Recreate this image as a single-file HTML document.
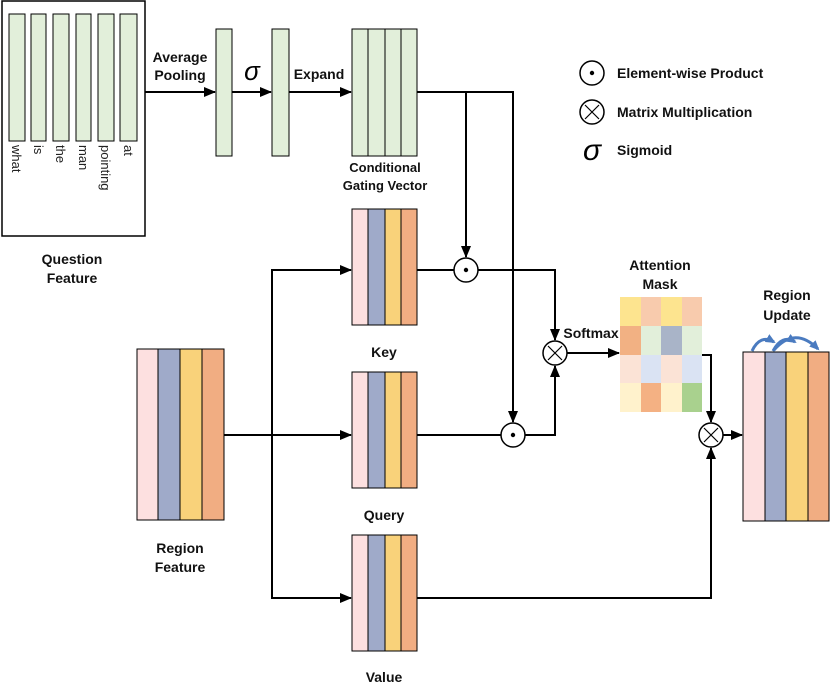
<!DOCTYPE html>
<html><head><meta charset="utf-8"><style>body{margin:0;background:#fff}svg{display:block}text{font-family:"Liberation Sans",Arial,sans-serif}</style></head><body>
<svg width="830" height="690" viewBox="0 0 830 690" xmlns="http://www.w3.org/2000/svg">
<defs><marker id="a" markerWidth="12" markerHeight="10" refX="11" refY="5" orient="auto" markerUnits="userSpaceOnUse"><path d="M0,0 L12,5 L0,10 Z" fill="#000"/></marker>
<marker id="b" markerWidth="10" markerHeight="9" refX="8" refY="4.5" orient="auto" markerUnits="userSpaceOnUse"><path d="M0,0 L10,4.5 L0,9 Z" fill="#4a7bc0"/></marker></defs>
<g stroke="#000" stroke-width="1" fill="#e2efda">
<rect x="2" y="1" width="143" height="235" fill="none" stroke-width="1.5"/>
<rect x="9" y="14" width="16" height="127"/><rect x="31" y="14" width="15" height="127"/><rect x="53" y="14" width="16" height="127"/><rect x="76" y="14" width="15" height="127"/><rect x="98" y="14" width="16" height="127"/><rect x="120" y="14" width="17" height="127"/>
<rect x="216" y="29" width="16" height="127"/><rect x="272" y="29" width="17" height="127"/>
<rect x="352" y="29" width="16" height="127"/><rect x="368" y="29" width="17" height="127"/><rect x="385" y="29" width="16" height="127"/><rect x="401" y="29" width="16" height="127"/>
</g>
<g font-size="13" fill="#222">
<text transform="translate(12,145) rotate(90)">what</text><text transform="translate(34,145) rotate(90)">is</text><text transform="translate(56,145) rotate(90)">the</text><text transform="translate(79,145) rotate(90)">man</text><text transform="translate(101,145) rotate(90)">pointing</text><text transform="translate(124,145) rotate(90)">at</text>
</g>
<g font-size="14" font-weight="bold" text-anchor="middle" fill="#111">
<text x="72" y="264">Question</text><text x="72" y="283">Feature</text>
<text x="180" y="62">Average</text><text x="180" y="80">Pooling</text>
<text x="319" y="79">Expand</text>
<text x="385" y="172" font-size="13">Conditional</text><text x="385" y="190" font-size="13">Gating Vector</text>
<text x="384" y="357">Key</text><text x="384" y="520">Query</text><text x="384" y="682">Value</text>
<text x="180" y="553">Region</text><text x="180" y="572">Feature</text>
<text x="660" y="270">Attention</text><text x="660" y="289">Mask</text>
<text x="787" y="300">Region</text><text x="787" y="320">Update</text>
<text x="591" y="338">Softmax</text>
</g>
<text x="252" y="80" font-size="26" font-style="italic" font-family="Liberation Serif,serif" text-anchor="middle">σ</text>
<g stroke="#000" stroke-width="1">
<g id="blk"><rect x="352" y="209" width="16" height="116" fill="#fde0e0"/><rect x="368" y="209" width="17" height="116" fill="#9faac9"/><rect x="385" y="209" width="16" height="116" fill="#f9d27a"/><rect x="401" y="209" width="16" height="116" fill="#f1ad82"/></g>
<use href="#blk" y="163"/><use href="#blk" y="326"/>
<rect x="137" y="349" width="21" height="171" fill="#fde0e0"/><rect x="158" y="349" width="22" height="171" fill="#9faac9"/><rect x="180" y="349" width="22" height="171" fill="#f9d27a"/><rect x="202" y="349" width="22" height="171" fill="#f1ad82"/>
<rect x="743" y="352" width="22" height="169" fill="#fde0e0"/><rect x="765" y="352" width="21" height="169" fill="#9faac9"/><rect x="786" y="352" width="22" height="169" fill="#f9d27a"/><rect x="808" y="352" width="21" height="169" fill="#f1ad82"/>
</g>
<g>
<rect x="620" y="297" width="21" height="29" fill="#fde48f"/><rect x="641" y="297" width="20" height="29" fill="#f8cbad"/><rect x="661" y="297" width="21" height="29" fill="#fde48f"/><rect x="682" y="297" width="20" height="29" fill="#f8cbad"/>
<rect x="620" y="326" width="21" height="29" fill="#f2b183"/><rect x="641" y="326" width="20" height="29" fill="#e2efda"/><rect x="661" y="326" width="21" height="29" fill="#a9b4c8"/><rect x="682" y="326" width="20" height="29" fill="#e2efda"/>
<rect x="620" y="355" width="21" height="28" fill="#fbe3d6"/><rect x="641" y="355" width="20" height="28" fill="#dae3f3"/><rect x="661" y="355" width="21" height="28" fill="#fbe3d6"/><rect x="682" y="355" width="20" height="28" fill="#dae3f3"/>
<rect x="620" y="383" width="21" height="29" fill="#fff2cc"/><rect x="641" y="383" width="20" height="29" fill="#f4b183"/><rect x="661" y="383" width="21" height="29" fill="#fff2cc"/><rect x="682" y="383" width="20" height="29" fill="#a9d18e"/>
</g>
<g stroke="#000" stroke-width="2" fill="none">
<line x1="145" y1="92" x2="215" y2="92" marker-end="url(#a)"/>
<line x1="232" y1="92" x2="271" y2="92" marker-end="url(#a)"/>
<line x1="289" y1="92" x2="351" y2="92" marker-end="url(#a)"/>
<polyline points="417,92 513,92 513,422" marker-end="url(#a)"/>
<line x1="466" y1="92" x2="466" y2="257" marker-end="url(#a)"/>
<polyline points="224,435 351,435" marker-end="url(#a)"/>
<polyline points="351,270 272,270 272,598 351,598"/>
<line x1="272" y1="270" x2="351" y2="270" marker-end="url(#a)"/>
<line x1="272" y1="598" x2="351" y2="598" marker-end="url(#a)"/>
<line x1="417" y1="270" x2="454" y2="270"/>
<polyline points="478,270 555,270 555,340" marker-end="url(#a)"/>
<line x1="417" y1="435" x2="501" y2="435"/>
<polyline points="525,435 555,435 555,366" marker-end="url(#a)"/>
<line x1="567" y1="353" x2="619" y2="353" marker-end="url(#a)"/>
<polyline points="702,355 711,355 711,422" marker-end="url(#a)"/>
<polyline points="417,598 711,598 711,448" marker-end="url(#a)"/>
<line x1="723" y1="435" x2="742" y2="435" marker-end="url(#a)"/>
</g>
<g stroke="#000" stroke-width="1.5" fill="#fff">
<circle cx="466" cy="270" r="12"/><circle cx="513" cy="435" r="12"/>
<circle cx="555" cy="353" r="12"/><circle cx="711" cy="435" r="12"/>
<circle cx="592" cy="73" r="12"/><circle cx="592" cy="112" r="12"/>
</g>
<g fill="#000"><circle cx="466" cy="270" r="2.2"/><circle cx="513" cy="435" r="2.2"/><circle cx="592" cy="73" r="2.2"/></g>
<g stroke="#000" stroke-width="1.2">
<path d="M548,346 L562,360 M562,346 L548,360"/><path d="M704,428 L718,442 M718,428 L704,442"/><path d="M585,105 L599,119 M599,105 L585,119"/>
</g>
<text x="592" y="160" font-size="30" font-style="italic" font-family="Liberation Serif,serif" text-anchor="middle">σ</text>
<g font-size="14" font-weight="bold" fill="#111">
<text x="617" y="78">Element-wise Product</text><text x="617" y="117">Matrix Multiplication</text><text x="617" y="155">Sigmoid</text>
</g>
<g stroke="#4a7bc0" stroke-width="3" fill="none">
<path d="M752,351 Q760,334 774,342" marker-end="url(#b)"/>
<path d="M773,351 Q782,334 795,342" marker-end="url(#b)"/>
<path d="M774,350 Q795,326 818,349" marker-end="url(#b)"/>
</g>
</svg>
</body></html>
